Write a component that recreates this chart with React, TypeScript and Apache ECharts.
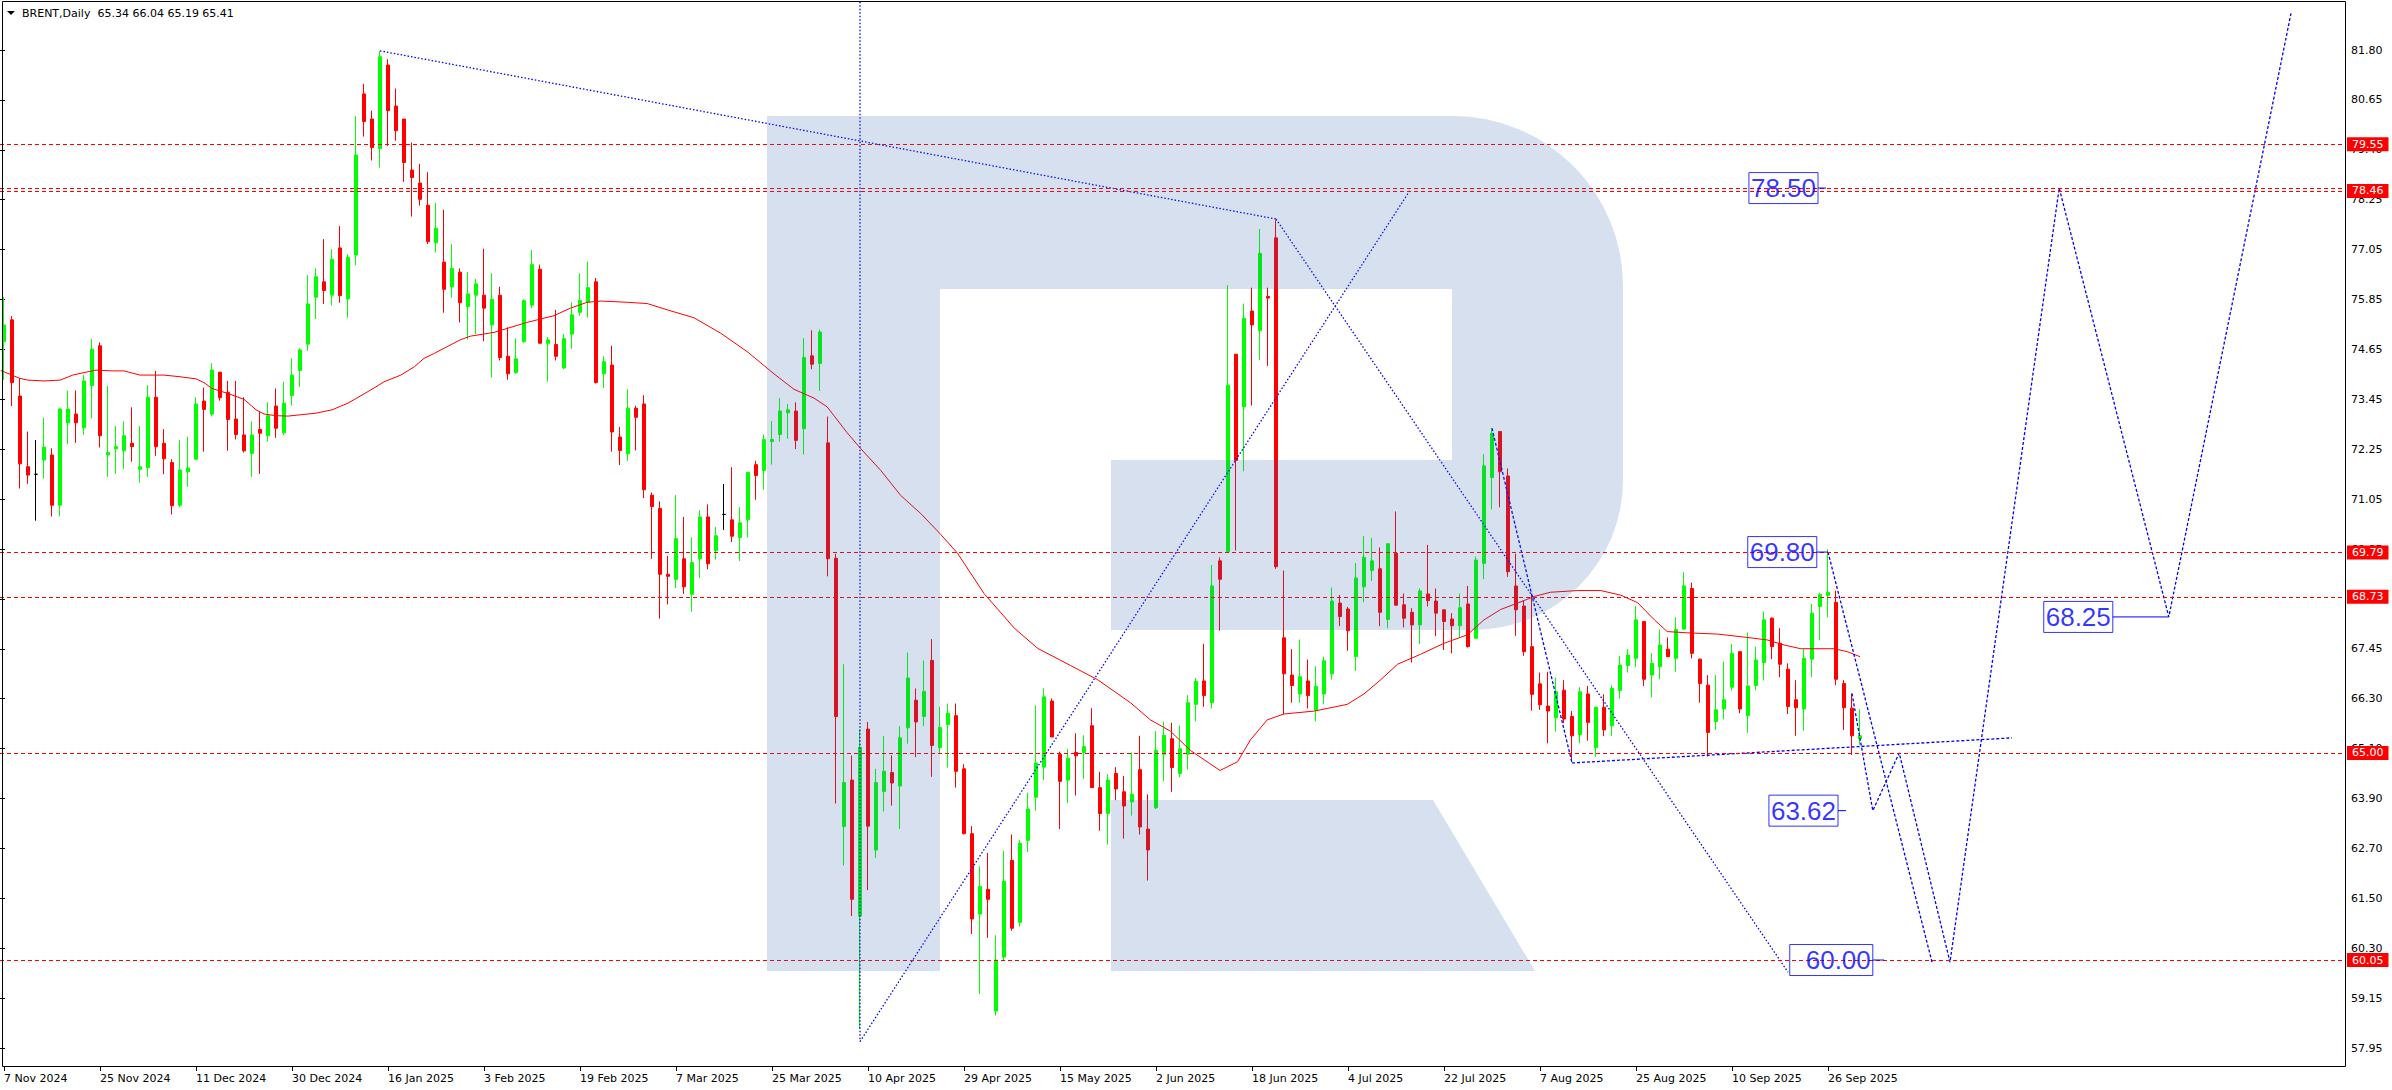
import React, { useEffect, useRef } from "react";
import * as echarts from "echarts";

// [open, high, low, close] for each daily bar, 7 Nov 2024 .. 2 Oct 2025
const candles: number[][] = [
  [74.83, 75.9, 73.91, 75.23], [75.35, 75.44, 73.29, 73.85], [73.53, 73.95, 71.32, 71.91], [71.84, 72.68, 71.43, 71.64],
  [71.66, 72.48, 70.55, 71.66], [72.0, 73.01, 71.56, 72.31], [72.12, 72.28, 70.65, 70.92], [70.92, 73.25, 70.65, 73.22],
  [72.89, 73.66, 72.38, 73.22], [73.1, 73.66, 72.41, 72.89], [72.77, 74.03, 72.6, 73.89], [73.78, 74.89, 73.0, 74.65],
  [74.73, 74.81, 72.3, 72.58], [72.12, 73.77, 71.6, 72.18], [72.27, 72.81, 71.67, 72.32], [72.22, 72.92, 71.79, 72.58],
  [72.4, 73.26, 71.96, 72.32], [71.78, 72.81, 71.46, 71.84], [71.82, 73.79, 71.6, 73.5], [73.5, 74.13, 72.1, 72.32],
  [72.4, 72.74, 71.66, 72.03], [71.94, 72.02, 70.7, 70.91], [70.92, 72.48, 70.88, 71.76], [71.72, 72.56, 71.36, 71.81],
  [72.02, 73.5, 72.02, 73.34], [73.41, 73.73, 72.2, 73.21], [73.1, 74.31, 73.04, 74.15], [74.1, 74.11, 73.42, 73.49],
  [73.62, 73.89, 72.22, 72.97], [72.98, 73.89, 72.49, 72.61], [72.6, 73.5, 72.18, 72.22], [72.16, 72.92, 71.6, 72.6],
  [72.73, 73.16, 71.67, 72.64], [72.58, 73.38, 72.44, 73.06], [73.29, 73.71, 72.53, 72.76], [72.65, 73.87, 72.6, 73.36],
  [73.54, 74.43, 73.3, 74.03], [74.14, 74.67, 73.75, 74.63], [74.77, 76.42, 74.61, 75.73], [75.89, 76.58, 75.37, 76.38],
  [76.26, 77.28, 75.73, 76.05], [75.94, 77.04, 75.69, 76.8], [77.07, 77.59, 75.76, 75.93], [75.85, 76.92, 75.4, 76.84],
  [76.9, 80.22, 76.66, 79.29], [80.75, 80.99, 79.73, 80.09], [80.15, 80.35, 79.16, 79.47], [79.44, 81.78, 78.99, 81.64],
  [81.44, 81.58, 79.51, 80.35], [80.46, 80.88, 79.63, 79.87], [80.15, 80.15, 78.65, 79.11], [78.93, 79.59, 77.82, 78.75],
  [78.62, 79.08, 78.08, 78.23], [78.09, 78.88, 77.16, 77.22], [77.19, 78.15, 76.96, 77.54], [76.73, 77.98, 75.52, 76.08],
  [76.14, 77.16, 75.88, 76.58], [76.49, 76.58, 75.29, 75.76], [75.67, 76.49, 74.88, 75.97], [75.94, 76.33, 75.01, 76.21],
  [75.94, 77.05, 74.84, 75.63], [75.23, 76.46, 73.97, 75.84], [75.94, 76.14, 74.38, 74.45], [74.48, 75.17, 73.92, 74.06],
  [74.09, 74.91, 74.06, 74.42], [74.83, 75.84, 74.8, 75.81], [75.7, 77.02, 75.63, 76.67], [76.56, 76.67, 74.79, 74.79],
  [74.79, 74.94, 73.87, 74.87], [74.76, 75.59, 74.38, 74.48], [74.2, 75.01, 74.17, 74.9], [75.01, 75.77, 74.66, 75.47],
  [75.53, 76.46, 75.45, 75.81], [75.77, 76.74, 75.4, 76.12], [76.26, 76.35, 73.83, 73.85], [74.06, 74.48, 73.72, 74.35],
  [74.27, 74.73, 72.2, 72.67], [72.55, 72.79, 71.88, 72.23], [72.15, 73.69, 71.98, 73.24], [73.24, 73.3, 72.23, 73.02],
  [73.34, 73.55, 71.09, 71.29], [71.16, 71.22, 69.64, 70.89], [70.84, 71.01, 68.21, 69.27], [69.27, 69.71, 68.55, 69.22],
  [69.15, 71.16, 68.94, 70.12], [69.64, 70.64, 68.8, 68.97], [68.79, 70.15, 68.37, 69.55], [69.64, 70.8, 69.18, 70.64],
  [70.64, 70.94, 69.39, 69.52], [69.83, 70.4, 69.62, 70.19], [70.7, 71.43, 70.33, 70.7], [70.57, 71.83, 70.04, 70.18],
  [70.15, 70.87, 69.59, 70.5], [70.57, 71.72, 70.15, 71.7], [71.89, 71.98, 71.05, 71.63], [71.75, 72.61, 71.29, 72.49],
  [72.44, 72.93, 71.89, 72.49], [72.61, 73.48, 72.44, 73.17], [73.13, 73.34, 72.51, 73.2], [73.17, 73.38, 72.26, 72.47],
  [72.75, 74.91, 72.13, 74.45], [74.49, 75.1, 74.17, 74.29], [74.31, 75.12, 73.65, 75.06], [72.41, 73.04, 69.22, 69.64],
  [69.65, 69.76, 63.79, 65.87], [63.24, 67.12, 62.31, 64.29], [64.35, 64.94, 61.1, 61.5], [61.1, 65.57, 58.4, 65.13],
  [65.57, 65.74, 61.72, 63.25], [62.68, 64.62, 62.49, 64.29], [64.08, 65.4, 63.6, 64.56], [64.53, 64.94, 63.74, 64.28],
  [64.21, 65.64, 63.18, 65.36], [65.6, 67.4, 65.22, 66.79], [66.26, 66.54, 64.9, 65.74], [65.87, 67.21, 65.64, 66.47],
  [67.21, 67.72, 64.43, 65.18], [65.13, 66.1, 64.99, 65.61], [65.68, 66.18, 64.65, 65.95], [65.89, 66.18, 64.17, 64.56],
  [64.62, 64.73, 63.05, 63.07], [63.07, 63.25, 60.67, 61.03], [61.15, 62.29, 59.24, 61.81], [61.74, 62.61, 60.58, 61.5],
  [58.83, 60.64, 58.72, 60.05], [60.12, 62.66, 60.03, 61.93], [62.43, 63.05, 60.75, 60.81], [60.95, 62.91, 60.85, 62.84],
  [62.91, 64.05, 62.63, 63.66], [63.94, 66.13, 63.62, 64.76], [64.66, 66.54, 64.35, 66.34], [66.24, 66.3, 65.38, 65.38],
  [64.96, 65.03, 63.18, 64.32], [64.35, 65.1, 63.8, 64.87], [65.01, 65.47, 63.98, 64.93], [65.01, 65.42, 64.38, 65.15],
  [65.65, 66.07, 64.17, 64.17], [64.17, 64.55, 63.14, 63.55], [63.55, 64.49, 62.81, 64.35], [64.51, 64.66, 63.87, 64.14],
  [64.07, 64.45, 62.95, 63.73], [63.83, 65.01, 63.5, 64.01], [64.6, 65.41, 63.05, 63.23], [63.18, 64.01, 61.95, 62.68],
  [63.69, 65.52, 63.66, 65.06], [64.97, 65.75, 64.32, 65.42], [65.34, 65.72, 64.07, 64.65], [64.51, 65.65, 64.42, 65.1],
  [64.97, 66.38, 64.6, 66.2], [66.16, 66.79, 65.75, 66.71], [66.72, 67.61, 66.1, 66.37], [66.2, 69.49, 66.06, 68.99],
  [69.59, 69.67, 67.92, 69.15], [69.81, 76.18, 69.81, 73.79], [74.53, 74.53, 69.84, 71.99], [73.27, 75.74, 71.73, 75.39],
  [75.56, 76.12, 73.3, 75.23], [75.09, 77.52, 74.39, 76.94], [75.91, 76.12, 74.25, 75.87], [77.31, 77.73, 69.4, 69.45],
  [67.75, 69.36, 65.93, 66.89], [66.86, 67.48, 66.2, 66.61], [66.41, 67.71, 66.2, 66.82], [66.72, 67.23, 66.06, 66.37],
  [66.02, 67.07, 65.75, 66.59], [66.41, 67.3, 66.16, 67.2], [66.89, 68.95, 66.75, 68.63], [68.58, 68.77, 68.03, 68.26],
  [68.44, 68.49, 67.44, 67.92], [67.3, 69.54, 66.96, 69.18], [68.97, 70.18, 68.6, 69.67], [69.36, 70.14, 69.11, 69.59],
  [69.4, 69.91, 68.03, 68.36], [68.19, 70.0, 67.98, 70.0], [69.77, 70.77, 68.53, 68.53], [68.54, 68.81, 68.0, 68.22],
  [68.36, 68.46, 67.16, 68.06], [68.06, 68.93, 67.6, 68.87], [68.8, 69.97, 68.5, 68.64], [68.63, 68.93, 67.79, 68.34],
  [68.42, 68.43, 67.46, 68.14], [68.2, 68.34, 67.38, 68.04], [68.04, 68.81, 67.76, 68.47], [68.56, 68.99, 67.52, 67.54],
  [67.74, 69.69, 67.74, 69.61], [69.53, 72.14, 69.15, 71.86], [71.58, 72.76, 70.82, 72.64], [72.68, 72.68, 70.87, 71.72],
  [71.62, 71.8, 69.21, 69.33], [68.99, 69.76, 67.8, 68.42], [68.51, 68.65, 67.32, 67.42], [67.54, 68.8, 66.01, 66.4],
  [66.65, 66.92, 66.03, 66.15], [66.12, 66.94, 65.23, 66.0], [65.84, 66.8, 65.51, 66.46], [66.5, 66.74, 65.71, 65.81],
  [65.87, 66.0, 64.81, 65.41], [65.44, 66.57, 65.23, 66.46], [66.41, 66.6, 65.29, 65.73], [65.13, 66.11, 64.91, 66.09],
  [66.09, 66.4, 65.4, 65.55], [65.65, 66.62, 65.4, 66.54], [66.49, 67.32, 66.3, 67.1], [67.09, 67.48, 66.92, 67.34],
  [67.26, 68.51, 67.05, 68.18], [68.14, 68.14, 66.6, 66.76], [66.86, 67.38, 66.33, 67.14], [67.06, 67.95, 66.76, 67.58],
  [67.48, 67.76, 67.29, 67.3], [67.26, 68.24, 66.94, 67.95], [67.96, 69.32, 67.94, 68.99], [68.93, 69.07, 67.26, 67.38],
  [67.24, 67.26, 66.2, 66.66], [66.62, 66.86, 64.91, 65.49], [65.75, 66.86, 65.55, 66.03], [66.05, 67.18, 65.8, 66.27],
  [66.57, 67.6, 66.49, 67.38], [67.42, 67.42, 65.95, 66.05], [65.89, 67.88, 65.48, 66.6], [66.61, 67.54, 66.5, 67.22],
  [67.16, 68.38, 66.73, 68.18], [68.22, 68.24, 67.24, 67.54], [67.62, 67.98, 66.81, 67.12], [67.0, 67.14, 65.93, 66.11],
  [66.27, 66.74, 65.41, 66.08], [66.05, 67.48, 65.53, 67.26], [67.24, 68.56, 66.81, 68.34], [68.5, 68.83, 67.69, 68.79],
  [68.76, 69.87, 68.24, 68.84], [68.6, 68.88, 66.62, 66.76], [66.66, 66.74, 65.55, 66.08], [66.07, 66.42, 64.95, 65.41],
  [65.34, 66.04, 65.19, 65.41],
];

// moving average: [bar index, price]
const maPoints: number[][] = [
  [-0.4, 74.14], [2, 73.95], [3, 73.91], [5, 73.89], [7, 73.91], [8.6, 74.03], [10, 74.09], [11.5, 74.15], [13.6, 74.13],
  [15, 74.13], [17, 74.03], [20, 74.03], [22, 73.99], [24, 73.94], [25, 73.85], [26, 73.71], [28, 73.59], [30, 73.45],
  [31.5, 73.2], [32.5, 73.1], [34, 73.06], [35.5, 73.05], [37, 73.08], [39, 73.12], [41, 73.2], [43, 73.36], [45, 73.58],
  [46.5, 73.75], [47.5, 73.87], [49.6, 74.03], [51.3, 74.23], [52.5, 74.43], [53.8, 74.55], [55.4, 74.71], [57, 74.87],
  [58.3, 74.96], [61.25, 75.05], [65.4, 75.29], [68.75, 75.45], [70.8, 75.63], [72.9, 75.77], [74.6, 75.8], [77.9, 75.77],
  [80.4, 75.74], [82.9, 75.59], [86.25, 75.4], [89.6, 75.03], [92.9, 74.59], [96.25, 74.06], [98.75, 73.69],
  [101.25, 73.48], [102.9, 73.27], [105.4, 72.65], [107.1, 72.27], [109.6, 71.75], [112.1, 71.15], [114.6, 70.72],
  [117.1, 70.22], [119.2, 69.77], [122.5, 68.81], [126.3, 67.98], [129.2, 67.5], [133.3, 67.09], [136.7, 66.75],
  [140.8, 66.2], [143.3, 65.79], [145.8, 65.52], [148.3, 65.06], [152, 64.58], [154.2, 64.79], [155.8, 65.31],
  [157.9, 65.79], [160, 65.93], [163.8, 66.0], [167.9, 66.16], [170, 66.41], [172.1, 66.75], [174.2, 67.12],
  [177.1, 67.36], [180, 67.62], [182.9, 67.82], [185, 68.18], [187.1, 68.43], [189.2, 68.58], [191.3, 68.74],
  [193.3, 68.84], [196.7, 68.88], [199.6, 68.88], [202.1, 68.77], [204.2, 68.59], [206.3, 68.18], [207.9, 67.9],
  [210.4, 67.87], [214.2, 67.84], [217.9, 67.76], [220.4, 67.7], [222.5, 67.58], [224.6, 67.49], [228.8, 67.49],
  [230.4, 67.42], [232, 67.3],
];

const xTickLabels = [
  "7 Nov 2024", "25 Nov 2024", "11 Dec 2024", "30 Dec 2024", "16 Jan 2025", "3 Feb 2025", "19 Feb 2025",
  "7 Mar 2025", "25 Mar 2025", "10 Apr 2025", "29 Apr 2025", "15 May 2025", "2 Jun 2025", "18 Jun 2025",
  "4 Jul 2025", "22 Jul 2025", "7 Aug 2025", "25 Aug 2025", "10 Sep 2025", "26 Sep 2025",
];

// price scale labels, bottom to top
const yTickLabels = [
  "57.95", "59.15", "60.30", "61.50", "62.70", "63.90", "65.10", "66.30", "67.45", "68.65", "69.85",
  "71.05", "72.25", "73.45", "74.65", "75.85", "77.05", "78.25", "79.40", "80.65", "81.80",
];

// horizontal levels (red dashed) and their scale tags
const levelValues = [79.55, 78.5, 78.43, 69.79, 68.73, 65.0, 60.05];
const levelTags = ["79.55", "", "78.46", "69.79", "68.73", "65.00", "60.05"];
const lastPrice = 65.41;

// drawn trend lines: [bar index, price]
const trendFromHigh = [[47, 81.78], [159, 77.76]];
const trendDown = [[159, 77.76], [223, 59.76]];
const trendUp = [[107, 58.1], [175.8, 78.46]];
const verticalMark = [[107, 82.95], [107, 58.1]];
const julyDrop = [[186, 72.76], [196, 64.76]];
const supportLine = [[196, 64.76], [251, 65.36]];
const forecastA = [[228, 69.8], [241, 60.0]];
const forecastB = [[231, 66.42], [233.6, 63.62], [236.9, 65.0], [243.25, 60.0], [256.9, 78.5], [270.6, 68.25], [285.9, 82.7]];

// forecast tags: bar index of box right edge, price, text, end of short leader, extra left padding
const tagBars = [226.75, 226.6, 229.25, 233.6, 263.6];
const tagPrices = [78.5, 69.8, 63.62, 60.05, 68.25];
const tagTexts = ["78.50", "69.80", "63.62", "60.00", "68.25"];
const tagLeaderEnds = [227.75, 228, 230.25, 235, 270.6];
const tagLeftPad = [2, 2, 2, 16, 2];

const TOTAL_SLOTS = 293;
const HOLIDAYS = ["2024-12-25", "2025-01-01", "2025-04-18"];
const MONTHS = ["Jan", "Feb", "Mar", "Apr", "May", "Jun", "Jul", "Aug", "Sep", "Oct", "Nov", "Dec"];

function tradingDays(n: number): string[] {
  const out: string[] = [];
  const d = new Date(Date.UTC(2024, 10, 7));
  while (out.length < n) {
    const wd = d.getUTCDay();
    const iso = d.toISOString().slice(0, 10);
    if (wd !== 0 && wd !== 6 && HOLIDAYS.indexOf(iso) < 0) {
      out.push(`${d.getUTCDate()} ${MONTHS[d.getUTCMonth()]} ${d.getUTCFullYear()}`);
    }
    d.setUTCDate(d.getUTCDate() + 1);
  }
  return out;
}

const LOGO_MAIN =
  "M767 116 H1453 A170 170 0 0 1 1623 286 V480 A150 150 0 0 1 1473 630 H1111 V460 H1452 V289 H940 V971 H767 Z";
const LOGO_LEG = "M1111 800 H1433 L1535 971 H1111 Z";
let registered = false;
function registerLogo() {
  if (registered) return;
  echarts.graphic.registerShape("rlogoMain", echarts.graphic.extendPath(LOGO_MAIN, {}));
  echarts.graphic.registerShape("rlogoLeg", echarts.graphic.extendPath(LOGO_LEG, {}));
  registered = true;
}

const FONT = "DejaVu Sans";
const BLUE = "#0000ff";

function lineSeries(data: number[][], dash: any, z = 4, width = 1.3) {
  return {
    type: "line",
    xAxisIndex: 1,
    yAxisIndex: 0,
    data,
    symbol: "none",
    silent: true,
    z,
    lineStyle: { color: BLUE, width, type: dash },
  };
}

export default function App() {
  const ref = useRef<HTMLDivElement>(null);
  useEffect(() => {
    if (!ref.current) return;
    registerLogo();
    const chart = echarts.init(ref.current, undefined, { renderer: "svg" });
    const dates = tradingDays(TOTAL_SLOTS);
    const showIdx = (i: number) => i % 12 === 0 && i / 12 < xTickLabels.length;

    const markData: any[] = levelValues.map((v, i) => ({
      yAxis: v,
      label: levelTags[i] ? { formatter: levelTags[i] } : { show: false },
    }));
    markData.push({
      yAxis: lastPrice,
      lineStyle: { width: 0, opacity: 0 },
      label: { formatter: lastPrice.toFixed(2), backgroundColor: "#000000" },
    });

    const series: any[] = [
      {
        type: "candlestick",
        xAxisIndex: 0,
        yAxisIndex: 0,
        data: candles.map(([o, h, l, c]) => [o, c, l, h]),
        barWidth: 4,
        z: 2,
        itemStyle: {
          color: "#00ff00",
          color0: "#ff0000",
          borderColor: "#00ff00",
          borderColor0: "#ff0000",
          borderColorDoji: "#000000",
          borderWidth: 1,
        },
        markLine: {
          symbol: ["none", "none"],
          silent: true,
          animation: false,
          lineStyle: { color: "#ff0000", type: [4, 3], width: 1 },
          label: {
            show: true,
            position: "end",
            distance: 3,
            color: "#ffffff",
            backgroundColor: "#ff0000",
            padding: [2, 5, 1, 5],
            fontSize: 11,
            fontFamily: FONT,
          },
          emphasis: { disabled: true },
          data: markData,
        },
      },
      {
        type: "line",
        xAxisIndex: 1,
        yAxisIndex: 0,
        data: maPoints,
        symbol: "none",
        silent: true,
        z: 3,
        lineStyle: { color: "#ff0000", width: 1 },
      },
      lineSeries(trendFromHigh, [1.5, 2]),
      lineSeries(trendDown, [1.5, 2]),
      lineSeries(trendUp, [1.5, 2]),
      lineSeries(verticalMark, [1.5, 2]),
      lineSeries(julyDrop, [3, 2]),
      lineSeries(supportLine, [3, 2]),
      lineSeries(forecastA, [3, 2]),
      lineSeries(forecastB, [3, 2]),
      {
        type: "scatter",
        xAxisIndex: 1,
        yAxisIndex: 0,
        symbolSize: 0,
        silent: true,
        z: 6,
        data: tagBars.map((k, i) => ({
          value: [k, tagPrices[i]],
          label: { formatter: tagTexts[i], padding: [2, 2, 1, tagLeftPad[i]] },
        })),
        label: {
          show: true,
          position: "left",
          distance: 0,
          color: BLUE,
          fontSize: 26,
          lineHeight: 28,
          fontFamily: "Liberation Sans",
          borderColor: BLUE,
          borderWidth: 1,
          padding: [2, 2, 1, 2],
        },
      },
    ];
    tagBars.forEach((k, i) => {
      series.push(lineSeries([[k, tagPrices[i]], [tagLeaderEnds[i], tagPrices[i]]], "solid", 5, 1));
    });

    chart.setOption({
      animation: false,
      backgroundColor: "#ffffff",
      textStyle: { fontFamily: FONT },
      grid: [
        { left: 0, right: 48, top: 2, bottom: 24, show: false },
        { left: 0, right: 48, top: 50, bottom: 42, show: false },
      ],
      xAxis: [
        {
          type: "category",
          gridIndex: 0,
          data: dates,
          boundaryGap: true,
          axisLine: { show: false },
          axisTick: { show: true, alignWithLabel: true, interval: showIdx, length: 5, lineStyle: { color: "#000" } },
          axisLabel: {
            interval: showIdx,
            formatter: (_v: string, idx: number) => xTickLabels[idx / 12] || "",
            align: "left",
            margin: 7,
            fontSize: 11,
            color: "#000",
            fontFamily: FONT,
          },
          splitLine: { show: false },
        },
        { type: "value", gridIndex: 0, min: -0.5, max: TOTAL_SLOTS - 0.5, show: false },
        { type: "value", gridIndex: 1, min: 0, max: 1, show: false },
      ],
      yAxis: [
        { type: "value", gridIndex: 0, min: 57.517, max: 82.947, show: false },
        {
          type: "value",
          gridIndex: 1,
          min: 0,
          max: 20,
          interval: 1,
          position: "right",
          axisLine: { show: false },
          axisTick: { show: true, length: 5, lineStyle: { color: "#000" } },
          axisLabel: {
            margin: 7,
            fontSize: 11,
            color: "#000",
            fontFamily: FONT,
            formatter: (v: number) => yTickLabels[Math.round(v)] || "",
          },
          splitLine: { show: false },
        },
      ],
      graphic: [
        {
          type: "rlogoMain",
          x: 0,
          y: 0,
          z: 50,
          silent: true,
          style: { fill: "rgba(50,98,176,0.2)" },
        },
        {
          type: "rlogoLeg",
          x: 0,
          y: 0,
          z: 50,
          silent: true,
          style: { fill: "rgba(50,98,176,0.2)" },
        },
        {
          type: "rect",
          z: 60,
          silent: true,
          shape: { x: 2.5, y: 1.5, width: 2343, height: 1065 },
          style: { fill: "none", stroke: "#000", lineWidth: 1 },
        },
        {
          type: "polygon",
          z: 60,
          silent: true,
          shape: { points: [[7, 11], [15, 11], [11, 15]] },
          style: { fill: "#000" },
        },
        {
          type: "text",
          x: 22,
          y: 13,
          z: 60,
          silent: true,
          style: {
            text: "BRENT,Daily  65.34 66.04 65.19 65.41",
            fontSize: 11,
            fontFamily: FONT,
            fill: "#000",
            verticalAlign: "middle",
          },
        },
      ],
      series,
    });
    return () => chart.dispose();
  }, []);
  return (
    <div
      ref={ref}
      style={{ position: "fixed", left: 0, top: 0, width: "2392px", height: "1090px", background: "#fff" }}
    />
  );
}
